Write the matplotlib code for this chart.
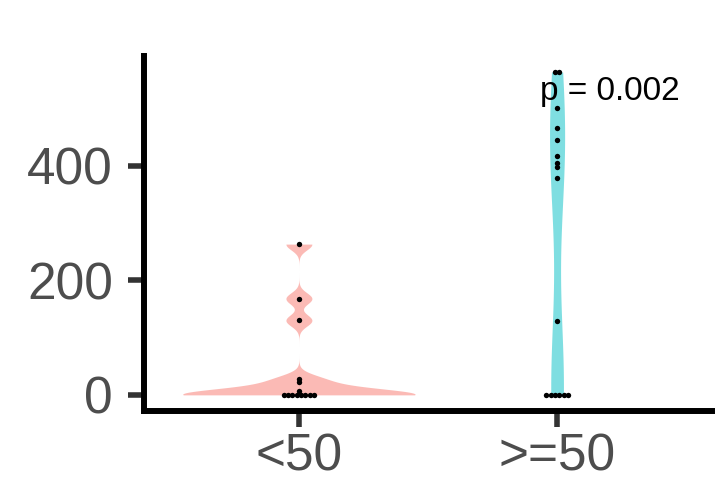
import numpy as np
import matplotlib
matplotlib.use("Agg")
import matplotlib.pyplot as plt

# data
groups = ["<50", ">=50"]
under_50 = [0, 0, 0, 0, 0, 0, 0, 0, 7, 22, 27, 130, 168, 263]
over_50 = [0, 0, 0, 0, 0, 0, 129, 378, 398, 404, 416, 445, 466, 501, 563, 563]
colors = ["#F8766D", "#00BFC4"]
p_label = "p = 0.002"

plt.rcParams["font.family"] = ["Liberation Sans", "DejaVu Sans"]


def bw_nrd0(x):
    x = np.asarray(x, dtype=float)
    sd = np.std(x, ddof=1)
    q75, q25 = np.percentile(x, [75, 25])
    lo = min(sd, (q75 - q25) / 1.34)
    return 0.9 * lo * len(x) ** -0.2


def violin_density(x, n=512):
    x = np.asarray(x, dtype=float)
    bw = bw_nrd0(x)
    grid = np.linspace(x.min(), x.max(), n)
    z = (grid[:, None] - x[None, :]) / bw
    dens = np.exp(-0.5 * z ** 2).sum(axis=1) / (len(x) * bw * np.sqrt(2 * np.pi))
    return grid, dens


series = [under_50, over_50]
dens_list = [violin_density(s) for s in series]
dmax = max(d.max() for _, d in dens_list)

fig = plt.figure(figsize=(7.21, 4.96), dpi=100)
ax = fig.add_axes([144 / 721, 85 / 496, (712 - 144) / 721, (440 - 85) / 496])

for i, (vals, (grid, dens)) in enumerate(zip(series, dens_list)):
    xc = i + 1
    half = 0.45 * dens / dmax
    ax.fill_betweenx(grid, xc - half, xc + half, color=colors[i], alpha=0.5,
                     linewidth=0, zorder=2)
    # dots, ties stacked side by side
    vals = np.asarray(vals)
    xs, ys = [], []
    for v in np.unique(vals):
        k = np.sum(vals == v)
        off = (np.arange(k) - (k - 1) / 2) * 0.017
        xs.extend(xc + off)
        ys.extend([v] * k)
    ax.scatter(xs, ys, s=15, color="black", linewidths=0, zorder=3)

ymax = max(max(s) for s in series)
pad = 0.05 * ymax
ax.set_ylim(-pad, ymax + pad)
ax.set_xlim(0.4, 2.6)

ax.text(2.205, 515, p_label, ha="center", va="baseline", fontsize=24,
        color="black", zorder=4)

ax.set_xticks([1, 2])
ax.set_xticklabels(groups)
ax.set_yticks([0, 200, 400])

for side in ["top", "right"]:
    ax.spines[side].set_visible(False)
for side in ["left", "bottom"]:
    ax.spines[side].set_linewidth(4.3)
    ax.spines[side].set_color("black")

ax.tick_params(axis="both", length=11.5, width=4.0, color="#333333",
               labelsize=37, labelcolor="#4D4D4D")
ax.tick_params(axis="y", pad=11)
ax.tick_params(axis="x", pad=4)

fig.savefig("out.png", dpi=100)
plt.close(fig)
